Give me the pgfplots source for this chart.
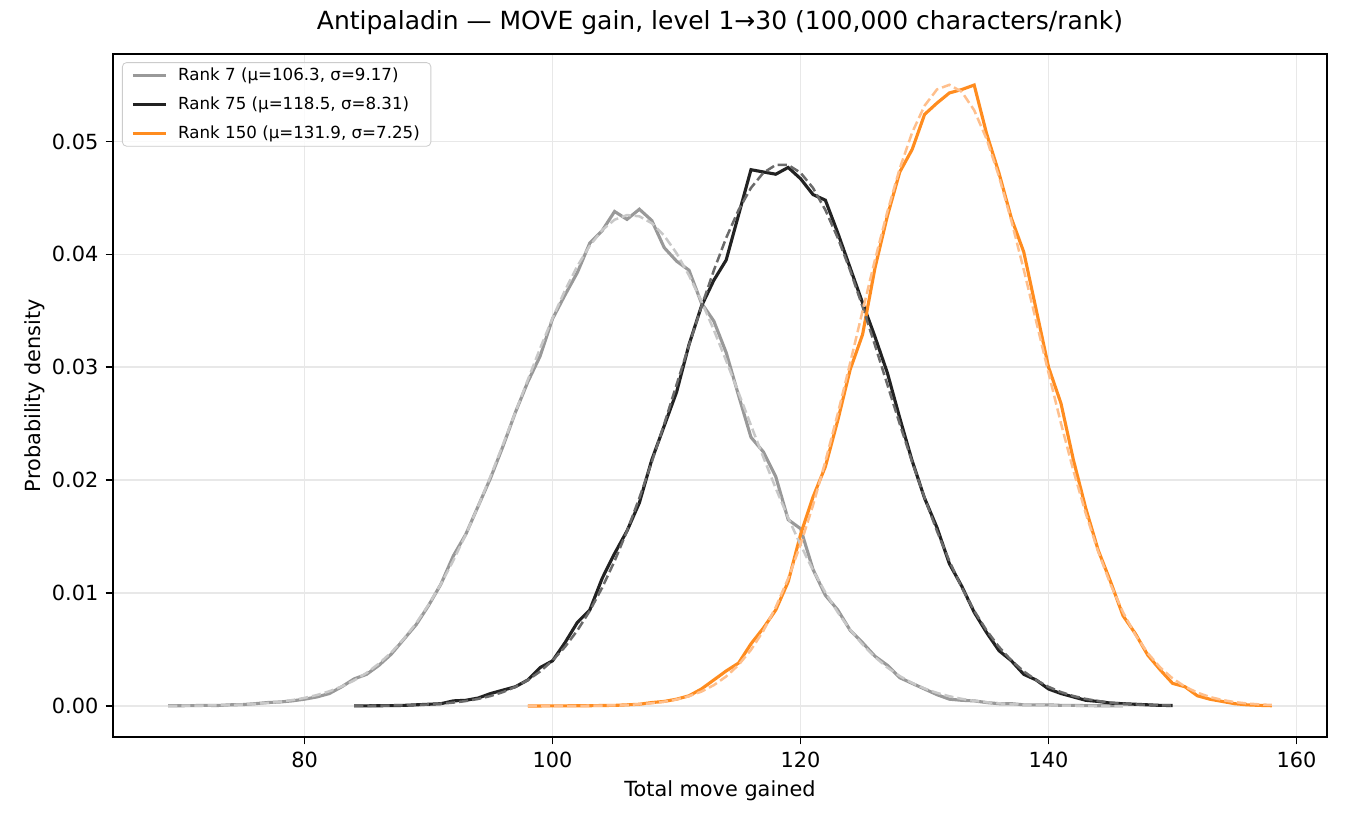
\documentclass[border=0pt]{standalone}
\usepackage{fontspec}
\setmainfont{DejaVu Sans}
\usepackage{pgfplots}
\usepackage{pgfplotstable}
\pgfplotsset{compat=1.18}
\definecolor{cgray}{HTML}{999999}
\definecolor{cgrayd}{HTML}{C8C8C8}
\definecolor{cblack}{HTML}{222222}
\definecolor{cblackd}{HTML}{6A6A6A}
\definecolor{corange}{HTML}{FF8C1F}
\definecolor{coranged}{HTML}{FFBF8C}
\definecolor{cgrid}{HTML}{E8E8E8}

% empirical densities
\pgfplotstableread{
x y
69 0.00002
70 0.00002
71 0.00003
72 0.00005
73 0.00004
74 0.00010
75 0.00012
76 0.00020
77 0.00030
78 0.00035
79 0.00045
80 0.00060
81 0.00080
82 0.00110
83 0.00170
84 0.00240
85 0.00280
86 0.00360
87 0.00460
88 0.00590
89 0.00720
90 0.00890
91 0.01080
92 0.01330
93 0.01520
94 0.01770
95 0.02020
96 0.02300
97 0.02600
98 0.02870
99 0.03100
100 0.03430
101 0.03640
102 0.03840
103 0.04100
104 0.04210
105 0.04380
106 0.04310
107 0.04400
108 0.04300
109 0.04060
110 0.03940
111 0.03860
112 0.03570
113 0.03410
114 0.03130
115 0.02750
116 0.02380
117 0.02250
118 0.02030
119 0.01650
120 0.01570
121 0.01210
122 0.00980
123 0.00850
124 0.00670
125 0.00560
126 0.00440
127 0.00360
128 0.00250
129 0.00200
130 0.00150
131 0.00100
132 0.00060
133 0.00050
134 0.00045
135 0.00030
136 0.00020
137 0.00020
138 0.00010
139 0.00010
140 0.00010
141 0.00005
142 0.00005
143 0.00003
144 0.00002
145 0.00002
146 0.00001
}\rankA

\pgfplotstableread{
x y
84 0.00001
85 0.00001
86 0.00002
87 0.00003
88 0.00005
89 0.00010
90 0.00015
91 0.00020
92 0.00045
93 0.00050
94 0.00070
95 0.00110
96 0.00140
97 0.00170
98 0.00230
99 0.00340
100 0.00400
101 0.00560
102 0.00740
103 0.00850
104 0.01130
105 0.01350
106 0.01550
107 0.01800
108 0.02180
109 0.02480
110 0.02780
111 0.03200
112 0.03540
113 0.03770
114 0.03950
115 0.04350
116 0.04750
117 0.04730
118 0.04710
119 0.04770
120 0.04670
121 0.04530
122 0.04480
123 0.04190
124 0.03880
125 0.03570
126 0.03270
127 0.02950
128 0.02550
129 0.02170
130 0.01840
131 0.01580
132 0.01260
133 0.01060
134 0.00830
135 0.00650
136 0.00490
137 0.00400
138 0.00280
139 0.00230
140 0.00150
141 0.00110
142 0.00080
143 0.00050
144 0.00040
145 0.00025
146 0.00020
147 0.00015
148 0.00010
149 0.00005
150 0.00004
}\rankB

\pgfplotstableread{
x y
98 0.00000
99 0.00000
100 0.00001
101 0.00001
102 0.00002
103 0.00002
104 0.00004
105 0.00005
106 0.00010
107 0.00015
108 0.00030
109 0.00040
110 0.00060
111 0.00090
112 0.00150
113 0.00230
114 0.00310
115 0.00380
116 0.00550
117 0.00690
118 0.00850
119 0.01100
120 0.01520
121 0.01850
122 0.02120
123 0.02530
124 0.02980
125 0.03290
126 0.03880
127 0.04340
128 0.04730
129 0.04930
130 0.05240
131 0.05340
132 0.05430
133 0.05460
134 0.05500
135 0.05070
136 0.04720
137 0.04320
138 0.04020
139 0.03510
140 0.03000
141 0.02680
142 0.02180
143 0.01750
144 0.01380
145 0.01100
146 0.00800
147 0.00640
148 0.00450
149 0.00320
150 0.00200
151 0.00170
152 0.00090
153 0.00060
154 0.00040
155 0.00020
156 0.00010
157 0.00005
158 0.00002
}\rankC

% fitted normal densities (values typed)
\pgfplotstableread{
x y
69 0.000011
70 0.000017
71 0.000026
72 0.000040
73 0.000060
74 0.000088
75 0.000128
76 0.000185
77 0.000264
78 0.000372
79 0.000517
80 0.000712
81 0.000967
82 0.001299
83 0.001724
84 0.002261
85 0.002929
86 0.003754
87 0.004750
88 0.005938
89 0.007338
90 0.008961
91 0.01081
92 0.01289
93 0.01519
94 0.01769
95 0.02036
96 0.02315
97 0.02601
98 0.02888
99 0.03169
100 0.03436
101 0.03681
102 0.03897
103 0.04077
104 0.04215
105 0.04307
106 0.04348
107 0.04337
108 0.04276
109 0.04166
110 0.04010
111 0.03814
112 0.03586
113 0.03331
114 0.03058
115 0.02774
116 0.02486
117 0.02202
118 0.01927
119 0.01667
120 0.01425
121 0.01204
122 0.01005
123 0.008288
124 0.006753
125 0.005438
126 0.004327
127 0.003403
128 0.002645
129 0.002031
130 0.001542
131 0.001156
132 0.000857
133 0.000627
134 0.000454
135 0.000325
136 0.000229
137 0.000160
138 0.000111
139 0.000075
140 0.000051
141 0.000034
142 0.000022
143 0.000014
144 0.000009
145 0.000006
146 0.000004
}\fitA

\pgfplotstableread{
x y
84 0.0000087
85 0.000014
86 0.000023
87 0.000036
88 0.000057
89 0.000088
90 0.000134
91 0.000201
92 0.000297
93 0.000433
94 0.000622
95 0.000880
96 0.001228
97 0.001689
98 0.002289
99 0.003060
100 0.004028
101 0.005230
102 0.006687
103 0.008427
104 0.01048
105 0.01283
106 0.01549
107 0.01843
108 0.02161
109 0.02497
110 0.02846
111 0.03195
112 0.03536
113 0.03857
114 0.04146
115 0.04393
116 0.04589
117 0.04723
118 0.04792
119 0.04792
120 0.04723
121 0.04589
122 0.04393
123 0.04146
124 0.03857
125 0.03536
126 0.03195
127 0.02846
128 0.02497
129 0.02161
130 0.01843
131 0.01549
132 0.01283
133 0.01048
134 0.008427
135 0.006687
136 0.005230
137 0.004028
138 0.003060
139 0.002289
140 0.001689
141 0.001228
142 0.000880
143 0.000622
144 0.000433
145 0.000297
146 0.000201
147 0.000134
148 0.000088
149 0.000057
150 0.000036
}\fitB

\pgfplotstableread{
x y
98 0.000001
99 0.0000019
100 0.0000034
101 0.0000063
102 0.000011
103 0.000020
104 0.000033
105 0.000056
106 0.000093
107 0.000151
108 0.000240
109 0.000375
110 0.000575
111 0.000864
112 0.001272
113 0.001841
114 0.002612
115 0.003636
116 0.004967
117 0.006657
118 0.008755
119 0.01130
120 0.01431
121 0.01777
122 0.02166
123 0.02590
124 0.03039
125 0.03499
126 0.03952
127 0.04379
128 0.04762
129 0.05080
130 0.05317
131 0.05461
132 0.05502
133 0.05440
134 0.05277
135 0.05022
136 0.04690
137 0.04297
138 0.03863
139 0.03407
140 0.02948
141 0.02503
142 0.02085
143 0.01704
144 0.01367
145 0.01076
146 0.008304
147 0.006290
148 0.004674
149 0.003408
150 0.002439
151 0.001713
152 0.001179
153 0.000797
154 0.000528
155 0.000343
156 0.000219
157 0.000137
158 0.000084
}\fitC

\begin{document}
\begin{tikzpicture}
\path[use as bounding box] (0,0) rectangle (648pt,396pt);
\begin{axis}[
  at={(54.24pt,42.24pt)}, anchor=south west,
  scale only axis, width=582.7pt, height=327.84pt,
  xmin=64.55, xmax=162.45, ymin=-0.00275, ymax=0.05775,
  xtick={80,100,120,140,160},
  ytick={0,0.01,0.02,0.03,0.04,0.05},
  scaled y ticks=false,
  yticklabel style={/pgf/number format/.cd, fixed, fixed zerofill, precision=2},
  /pgf/number format/assume math mode=true,
  ticklabel style={font=\fontsize{10}{12}\selectfont, color=black},
  tick align=outside,
  xtick pos=bottom, ytick pos=left,
  major tick length=3.5pt,
  tick style={black, line width=0.8pt},
  axis line style={black, line width=0.8pt},
  grid=major,
  major grid style={cgrid, line width=0.8pt},
  title={Antipaladin — MOVE gain, level 1→30 (100,000 characters/rank)},
  title style={font=\fontsize{12}{14.4}\selectfont, at={(axis description cs:0.5,1)}, anchor=base, yshift=5.8pt},
  xlabel={Total move gained},
  xlabel style={font=\fontsize{10}{12}\selectfont, at={(axis description cs:0.5,-0.0876)}, anchor=base},
  ylabel={Probability density},
  ylabel style={font=\fontsize{10}{12}\selectfont, at={(axis description cs:-0.0594,0.5)}, anchor=base},
  legend cell align=left,
  legend image code/.code={\draw[#1, line width=1.5pt] (0pt,0pt) -- (16pt,0pt); \path (20pt,0pt);},
  legend style={at={(axis description cs:0.0074,0.988)}, anchor=north west,
    font=\fontsize{8}{9.6}\selectfont, draw=black!20, fill=white, fill opacity=0.8, text opacity=1,
    rounded corners=2pt, inner xsep=4.3pt, inner ysep=1.3pt, row sep=4.4pt,
    nodes={inner sep=1pt}},
]
\addplot[cgray, line width=1.5pt] table[x=x,y=y] {\rankA};
\addlegendentry{Rank 7 (μ=106.3, σ=9.17)}
\addplot[cblack, line width=1.5pt] table[x=x,y=y] {\rankB};
\addlegendentry{Rank 75 (μ=118.5, σ=8.31)}
\addplot[corange, line width=1.5pt] table[x=x,y=y] {\rankC};
\addlegendentry{Rank 150 (μ=131.9, σ=7.25)}
\addplot[cgrayd, line width=1.2pt, dash pattern=on 4.4pt off 1.9pt, forget plot] table[x=x,y=y] {\fitA};
\addplot[cblackd, line width=1.2pt, dash pattern=on 4.4pt off 1.9pt, forget plot] table[x=x,y=y] {\fitB};
\addplot[coranged, line width=1.2pt, dash pattern=on 4.4pt off 1.9pt, forget plot] table[x=x,y=y] {\fitC};
\end{axis}
\end{tikzpicture}
\end{document}
